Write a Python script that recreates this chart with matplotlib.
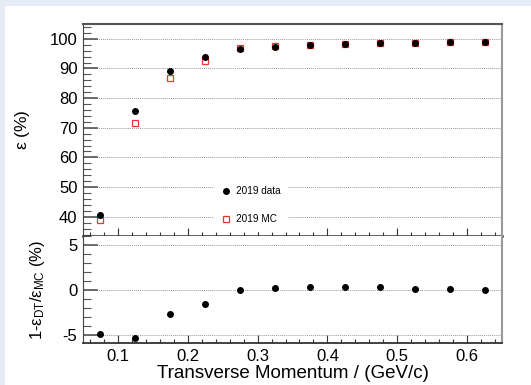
import matplotlib
matplotlib.use("Agg")
import matplotlib.pyplot as plt
from matplotlib.patches import Rectangle
from matplotlib.ticker import MultipleLocator

plt.rcParams['font.family'] = ['Liberation Sans', 'DejaVu Sans']
plt.rcParams['mathtext.fontset'] = 'custom'
plt.rcParams['mathtext.rm'] = 'Liberation Sans'
plt.rcParams['mathtext.it'] = 'Liberation Sans'
plt.rcParams['axes.unicode_minus'] = False

pt = [0.075, 0.125, 0.175, 0.225, 0.275, 0.325, 0.375, 0.425, 0.475, 0.525, 0.575, 0.625]
eff_data = [40.5, 75.5, 89.0, 93.8, 96.7, 97.4, 97.9, 98.3, 98.5, 98.6, 98.9, 98.9]
eff_mc = [39.0, 71.7, 86.7, 92.4, 96.8, 97.6, 98.0, 98.4, 98.6, 98.7, 99.0, 99.0]
ratio = [-4.9, -5.3, -2.7, -1.6, 0.0, 0.2, 0.37, 0.3, 0.3, 0.1, 0.15, 0.0]

fig = plt.figure(figsize=(5.31, 3.85), dpi=100)
fig.patch.set_facecolor('#e5ecf6')
fig.patches.append(Rectangle((5/531, 0), 1, 1 - 6/385, transform=fig.transFigure,
                             facecolor='white', edgecolor='none', zorder=-10))

W, H = 531, 385
left, right = 83/W, 502/W
ax1 = fig.add_axes([left, 1 - 236/H, right - left, (236 - 24)/H])
ax2 = fig.add_axes([left, 1 - 343/H, right - left, (343 - 236)/H], sharex=ax1)

for ax in (ax1, ax2):
    ax.set_facecolor('white')
    ax.set_xlim(0.05, 0.65)
    ax.xaxis.set_major_locator(MultipleLocator(0.1))
    ax.xaxis.set_minor_locator(MultipleLocator(0.02))
    ax.tick_params(axis='x', which='major', direction='in', length=6, width=0.8, color='#333333',
                   labelsize=12, pad=4)
    ax.tick_params(axis='x', which='minor', direction='in', length=3, width=0.8, color='#333333')
    ax.tick_params(axis='y', which='major', direction='in', length=11, width=1.2, color='#555555',
                   labelsize=12, pad=4)
    ax.tick_params(axis='y', which='minor', direction='in', length=5.5, width=0.8, color='#555555')
    ax.spines['left'].set_color('#444444')
    ax.spines['bottom'].set_color('#333333')
    ax.spines['bottom'].set_linewidth(1.3)
    ax.spines['right'].set_color('#9a9a9a')
    ax.spines['right'].set_linewidth(1.5)
    ax.spines['top'].set_color('#555555')
    ax.spines['top'].set_linewidth(1.5)
    ax.yaxis.grid(True, which='major', linestyle=(0, (1, 1)), color='#9a9a9a', linewidth=0.7)
    ax.set_axisbelow(True)

ax1.set_ylim(33.5, 105)
ax1.yaxis.set_major_locator(MultipleLocator(10))
ax1.yaxis.set_minor_locator(MultipleLocator(2))
ax1.tick_params(axis='x', labelbottom=False)
ax1.spines['bottom'].set_linewidth(1.8)

ax2.set_ylim(-5.9, 6.0)
ax2.yaxis.set_major_locator(MultipleLocator(5))
ax2.yaxis.set_minor_locator(MultipleLocator(1))
ax2.spines['top'].set_visible(False)

ax1.plot(pt, eff_mc, linestyle='none', marker='s', markersize=5, markerfacecolor='none',
         markeredgecolor='#ee3333', markeredgewidth=0.9, label='2019 MC', zorder=3)
ax1.plot(pt, eff_data, linestyle='none', marker='o', markersize=4.0, color='black',
         label='2019 data', zorder=4)

h, l = ax1.get_legend_handles_labels()
leg = ax1.legend([h[1], h[0]], [l[1], l[0]], loc='lower left', bbox_to_anchor=(0.3, 0.0),
                 frameon=True, fontsize=7.2, handlelength=1.0, handletextpad=0.5,
                 labelspacing=1.75, borderpad=0.7, fancybox=False)
leg.get_frame().set_edgecolor('white')
leg.get_frame().set_facecolor('white')
leg.get_frame().set_alpha(1)

ax2.plot(pt, ratio, linestyle='none', marker='o', markersize=4.0, color='black', zorder=3)

ax1.set_ylabel(r'$\epsilon$ (%)', fontsize=12.5, labelpad=13)
ax2.set_ylabel(r'1-$\epsilon_{DT}$/$\epsilon_{MC}$ (%)', fontsize=12, labelpad=11)
ax2.set_xlabel('Transverse Momentum / (GeV/c)', fontsize=13.5, labelpad=1)

fig.savefig('out.png', dpi=100, facecolor=fig.get_facecolor())
